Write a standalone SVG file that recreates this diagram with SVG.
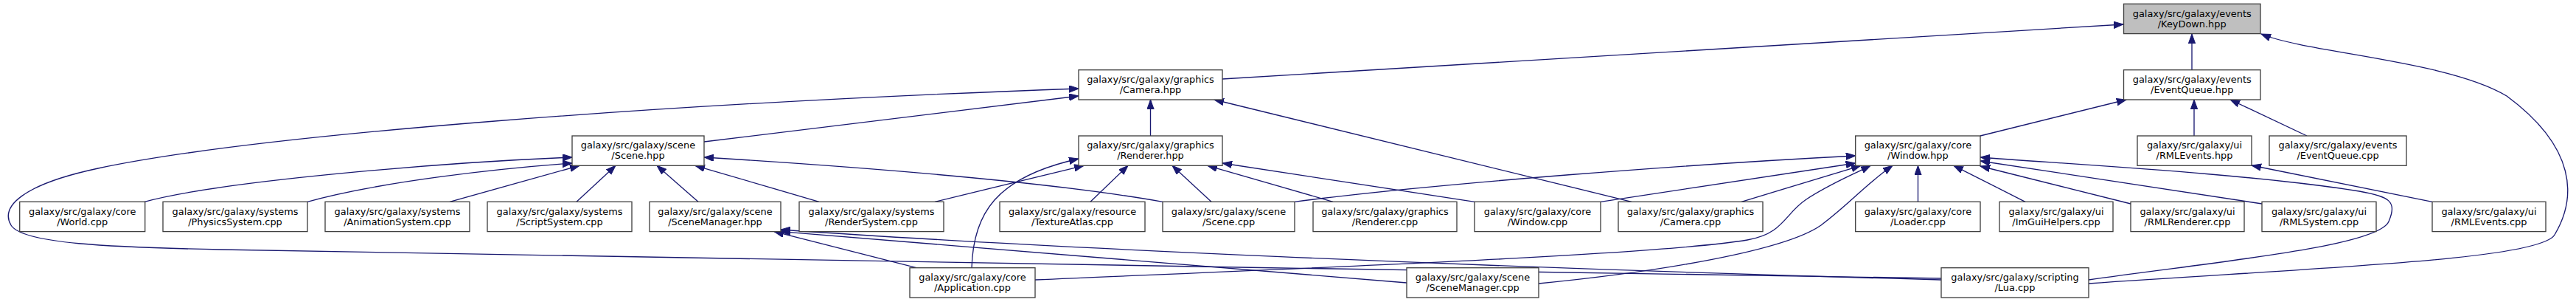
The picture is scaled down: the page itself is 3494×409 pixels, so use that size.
<svg xmlns="http://www.w3.org/2000/svg" width="3494" height="409" viewBox="0 0 3494 409">
<style>
.n rect{fill:#ffffff;stroke:#404040;stroke-width:1.33}
.m rect{fill:#bfbfbf;stroke:#404040;stroke-width:1.33}
text{font-family:"DejaVu Sans","Liberation Sans",sans-serif;font-size:12.9px;fill:#000000;text-anchor:middle}
.e path{fill:none;stroke:#191970;stroke-width:1.33;marker-end:url(#a)}
</style>
<defs>
<marker id="a" markerUnits="userSpaceOnUse" markerWidth="14" markerHeight="10" viewBox="0 0 14 10" refX="13" refY="4.7" orient="auto">
<path d="M0,0 L13,4.7 L0,9.4 z" fill="#191970" stroke="#191970" stroke-width="1"/>
</marker>
</defs>
<rect width="3494" height="409" fill="#ffffff"/>
<g id="connectors" class="e">
<path d="M1658,107 L2880,33"/>
<path d="M2973,94.7 L2973,46"/>
<path d="M2833,384 C3150,362 3445,352 3465,318 C3495,268 3495,200 3400,130 C3320,82 3130,72 3067,46"/>
<path d="M2633,377 C1900,366 700,346 300,338 C150,335 30,330 15,305 C0,280 30,250 133,228 C350,182 900,140 1463,120"/>
<path d="M955,192 L1463,130"/>
<path d="M1560.5,184 L1560.5,135"/>
<path d="M2213,273.3 L1647,135"/>
<path d="M196,273.3 C300,245 600,220 776,213"/>
<path d="M417,273.3 C520,245 680,228 776,221"/>
<path d="M610,273.3 L786,224.3"/>
<path d="M782,273.3 L835,224.3"/>
<path d="M947,273.3 L891,224.3"/>
<path d="M1111,273.3 L943,224.3"/>
<path d="M1577,273.3 C1400,242 1100,222 955,213"/>
<path d="M1318,362.7 C1320,290 1350,240 1463,215"/>
<path d="M1268,273.3 L1470,224.3"/>
<path d="M1479,273.3 L1530,224.3"/>
<path d="M1643,273.3 L1590,224.3"/>
<path d="M1808,273.3 L1638,224.3"/>
<path d="M2000,273.3 L1658,221"/>
<path d="M1756,273.3 C1950,248 2300,222 2516.7,211"/>
<path d="M2171,273.3 L2516.7,221"/>
<path d="M2362,273.3 L2524,224.3"/>
<path d="M1404,379 C1800,362 2250,345 2370,325 C2420,316 2420,290 2450,270 C2480,250 2510,238 2537,224.3"/>
<path d="M2087,384 C2250,368 2420,340 2470,305 C2510,275 2530,250 2567,224.3"/>
<path d="M2601.5,273.3 L2601.5,224.3"/>
<path d="M2747,273.3 L2650,224.3"/>
<path d="M2890,276 L2686,225"/>
<path d="M3068,276 L2686,218"/>
<path d="M2833,379 C2990,356 3225,335 3240,300 C3252,272 3240,266 3200,259 C3050,235 2800,222 2686,213"/>
<path d="M2686,184 L2884,135"/>
<path d="M2976,184 L2976,135"/>
<path d="M3129,184 L3025,135"/>
<path d="M3299,273.3 L3054,224"/>
<path d="M1243,362.7 L1050,313.6"/>
<path d="M1908,383 L1059,313.6"/>
<path d="M2633,379 C2000,362 1400,335 1059,311"/>
</g>
<g id="node-KeyDown-hpp" class="m"><rect x="2880.5" y="5.3" width="185.5" height="40.3"/><text x="2973.2" y="22.7">galaxy/src/galaxy/events</text><text x="2973.2" y="36.7">/KeyDown.hpp</text></g>
<g id="node-EventQueue-hpp" class="n"><rect x="2880.5" y="94.7" width="185.5" height="40.3"/><text x="2973.2" y="112.1">galaxy/src/galaxy/events</text><text x="2973.2" y="126.1">/EventQueue.hpp</text></g>
<g id="node-Camera-hpp" class="n"><rect x="1463" y="94.7" width="195" height="40.3"/><text x="1560.5" y="112.1">galaxy/src/galaxy/graphics</text><text x="1560.5" y="126.1">/Camera.hpp</text></g>
<g id="node-Scene-hpp" class="n"><rect x="776" y="184" width="179" height="40.3"/><text x="865.5" y="201.4">galaxy/src/galaxy/scene</text><text x="865.5" y="215.4">/Scene.hpp</text></g>
<g id="node-Renderer-hpp" class="n"><rect x="1463" y="184" width="195" height="40.3"/><text x="1560.5" y="201.4">galaxy/src/galaxy/graphics</text><text x="1560.5" y="215.4">/Renderer.hpp</text></g>
<g id="node-Window-hpp" class="n"><rect x="2516.7" y="184" width="169.3" height="40.3"/><text x="2601.4" y="201.4">galaxy/src/galaxy/core</text><text x="2601.4" y="215.4">/Window.hpp</text></g>
<g id="node-RMLEvents-hpp" class="n"><rect x="2899" y="184" width="155" height="40.3"/><text x="2976.5" y="201.4">galaxy/src/galaxy/ui</text><text x="2976.5" y="215.4">/RMLEvents.hpp</text></g>
<g id="node-EventQueue-cpp" class="n"><rect x="3078" y="184" width="186" height="40.3"/><text x="3171" y="201.4">galaxy/src/galaxy/events</text><text x="3171" y="215.4">/EventQueue.cpp</text></g>
<g id="node-World-cpp" class="n"><rect x="26.7" y="273.3" width="170" height="40.3"/><text x="111.7" y="290.7">galaxy/src/galaxy/core</text><text x="111.7" y="304.7">/World.cpp</text></g>
<g id="node-PhysicsSystem-cpp" class="n"><rect x="221" y="273.3" width="196" height="40.3"/><text x="319" y="290.7">galaxy/src/galaxy/systems</text><text x="319" y="304.7">/PhysicsSystem.cpp</text></g>
<g id="node-AnimationSystem-cpp" class="n"><rect x="441" y="273.3" width="196" height="40.3"/><text x="539" y="290.7">galaxy/src/galaxy/systems</text><text x="539" y="304.7">/AnimationSystem.cpp</text></g>
<g id="node-ScriptSystem-cpp" class="n"><rect x="661" y="273.3" width="196" height="40.3"/><text x="759" y="290.7">galaxy/src/galaxy/systems</text><text x="759" y="304.7">/ScriptSystem.cpp</text></g>
<g id="node-SceneManager-hpp" class="n"><rect x="881" y="273.3" width="178" height="40.3"/><text x="970" y="290.7">galaxy/src/galaxy/scene</text><text x="970" y="304.7">/SceneManager.hpp</text></g>
<g id="node-RenderSystem-cpp" class="n"><rect x="1084" y="273.3" width="196" height="40.3"/><text x="1182" y="290.7">galaxy/src/galaxy/systems</text><text x="1182" y="304.7">/RenderSystem.cpp</text></g>
<g id="node-TextureAtlas-cpp" class="n"><rect x="1356" y="273.3" width="197" height="40.3"/><text x="1454.5" y="290.7">galaxy/src/galaxy/resource</text><text x="1454.5" y="304.7">/TextureAtlas.cpp</text></g>
<g id="node-Scene-cpp" class="n"><rect x="1577" y="273.3" width="179" height="40.3"/><text x="1666.5" y="290.7">galaxy/src/galaxy/scene</text><text x="1666.5" y="304.7">/Scene.cpp</text></g>
<g id="node-Renderer-cpp" class="n"><rect x="1781" y="273.3" width="195" height="40.3"/><text x="1878.5" y="290.7">galaxy/src/galaxy/graphics</text><text x="1878.5" y="304.7">/Renderer.cpp</text></g>
<g id="node-Window-cpp" class="n"><rect x="2000" y="273.3" width="171" height="40.3"/><text x="2085.5" y="290.7">galaxy/src/galaxy/core</text><text x="2085.5" y="304.7">/Window.cpp</text></g>
<g id="node-Camera-cpp" class="n"><rect x="2195" y="273.3" width="196" height="40.3"/><text x="2293" y="290.7">galaxy/src/galaxy/graphics</text><text x="2293" y="304.7">/Camera.cpp</text></g>
<g id="node-Loader-cpp" class="n"><rect x="2516.7" y="273.3" width="169.3" height="40.3"/><text x="2601.4" y="290.7">galaxy/src/galaxy/core</text><text x="2601.4" y="304.7">/Loader.cpp</text></g>
<g id="node-ImGuiHelpers-cpp" class="n"><rect x="2712" y="273.3" width="154" height="40.3"/><text x="2789" y="290.7">galaxy/src/galaxy/ui</text><text x="2789" y="304.7">/ImGuiHelpers.cpp</text></g>
<g id="node-RMLRenderer-cpp" class="n"><rect x="2890" y="273.3" width="154" height="40.3"/><text x="2967" y="290.7">galaxy/src/galaxy/ui</text><text x="2967" y="304.7">/RMLRenderer.cpp</text></g>
<g id="node-RMLSystem-cpp" class="n"><rect x="3068" y="273.3" width="155" height="40.3"/><text x="3145.5" y="290.7">galaxy/src/galaxy/ui</text><text x="3145.5" y="304.7">/RMLSystem.cpp</text></g>
<g id="node-RMLEvents-cpp" class="n"><rect x="3299" y="273.3" width="154" height="40.3"/><text x="3376" y="290.7">galaxy/src/galaxy/ui</text><text x="3376" y="304.7">/RMLEvents.cpp</text></g>
<g id="node-Application-cpp" class="n"><rect x="1234" y="362.7" width="170" height="40.3"/><text x="1319" y="380.1">galaxy/src/galaxy/core</text><text x="1319" y="394.1">/Application.cpp</text></g>
<g id="node-SceneManager-cpp" class="n"><rect x="1908" y="362.7" width="179" height="40.3"/><text x="1997.5" y="380.1">galaxy/src/galaxy/scene</text><text x="1997.5" y="394.1">/SceneManager.cpp</text></g>
<g id="node-Lua-cpp" class="n"><rect x="2633" y="362.7" width="200" height="40.3"/><text x="2733" y="380.1">galaxy/src/galaxy/scripting</text><text x="2733" y="394.1">/Lua.cpp</text></g>
</svg>
